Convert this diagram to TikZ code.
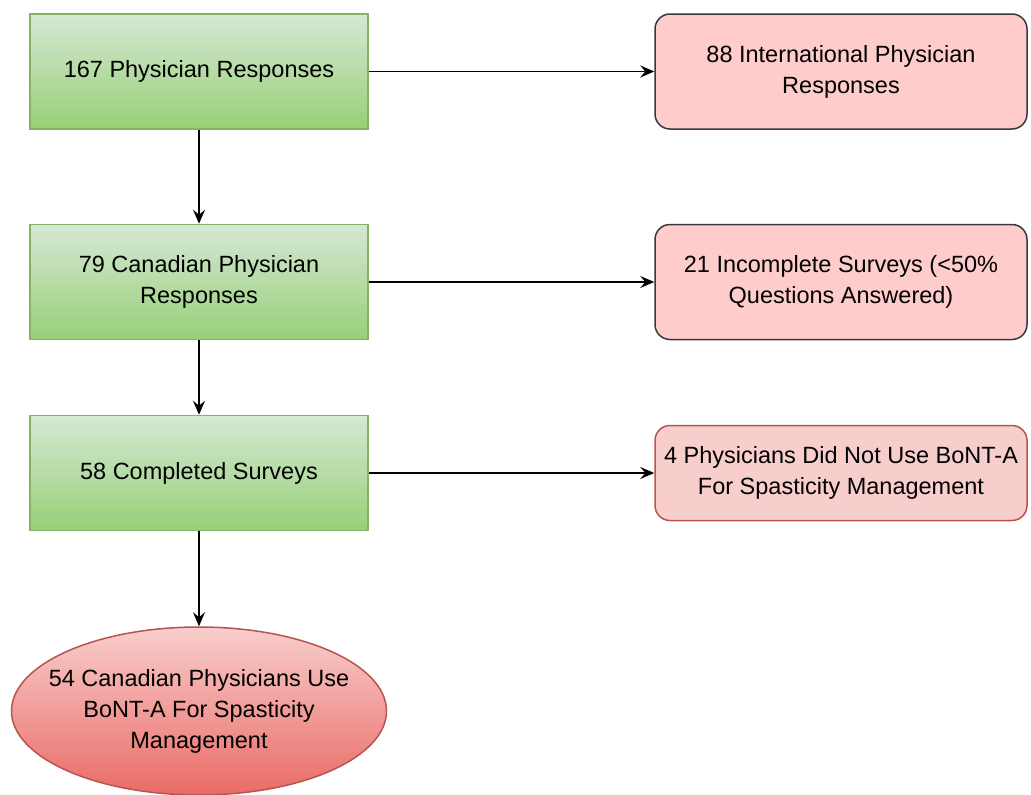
\documentclass[tikz,border=0pt]{standalone}
\usepackage{fontspec}
\setmainfont{Liberation Sans}
\usetikzlibrary{shapes.geometric}
\usetikzlibrary{arrows.meta}

\definecolor{greentop}{HTML}{D5E8D4}
\definecolor{greenbot}{HTML}{97D077}
\definecolor{greenline}{HTML}{82B366}
\definecolor{pinkfill}{HTML}{FFCCCC}
\definecolor{rosefill}{HTML}{F8CECC}
\definecolor{roseline}{HTML}{B85450}
\definecolor{redbot}{HTML}{EA6B66}
\definecolor{greyline}{HTML}{36393D}

\begin{document}
\begin{tikzpicture}
[x=1pt,y=-1pt,line width=1.5pt,%
  every node/.style={align=center,font=\fontsize{23.5}{31}\selectfont},%
  stage/.style={rectangle,minimum width=338pt,minimum height=115pt,draw=greenline,top color=greentop,bottom color=greenbot},%
  excl/.style={rectangle,rounded corners=15pt,minimum width=372pt,minimum height=115pt,draw=greyline,fill=pinkfill},%
  flow/.style={line width=1.8pt,-{Stealth[length=14pt,width=12pt,inset=5pt]}}]
\useasboundingbox (0,0) rectangle (1031,795);
\node[stage] (resp) at (199,71.5) {167 Physician Responses};
\node[stage] (canada) at (199,282) {79 Canadian Physician\\Responses};
\node[stage] (done) at (199,473) {58 Completed Surveys};
\node[ellipse,inner xsep=-60pt,inner ysep=0pt,minimum width=375pt,minimum height=168pt,
  draw=roseline,top color=rosefill,bottom color=redbot] (users) at (199,711)
  {54 Canadian Physicians Use\\BoNT-A For Spasticity\\Management};
\node[excl] (intl) at (841,71.5) {88 International Physician\\Responses};
\node[excl] (partial) at (841,282) {21 Incomplete Surveys (<50\%\\Questions Answered)};
\node[excl,minimum height=95pt,draw=roseline,fill=rosefill] (nonuse) at (841,473)
  {4 Physicians Did Not Use BoNT-A\\For Spasticity Management};
\draw[flow] (resp) -- (intl);
\draw[flow] (resp) -- (canada);
\draw[flow] (canada) -- (partial);
\draw[flow] (canada) -- (done);
\draw[flow] (done) -- (nonuse);
\draw[flow] (done) -- (users);
\end{tikzpicture}
\end{document}
